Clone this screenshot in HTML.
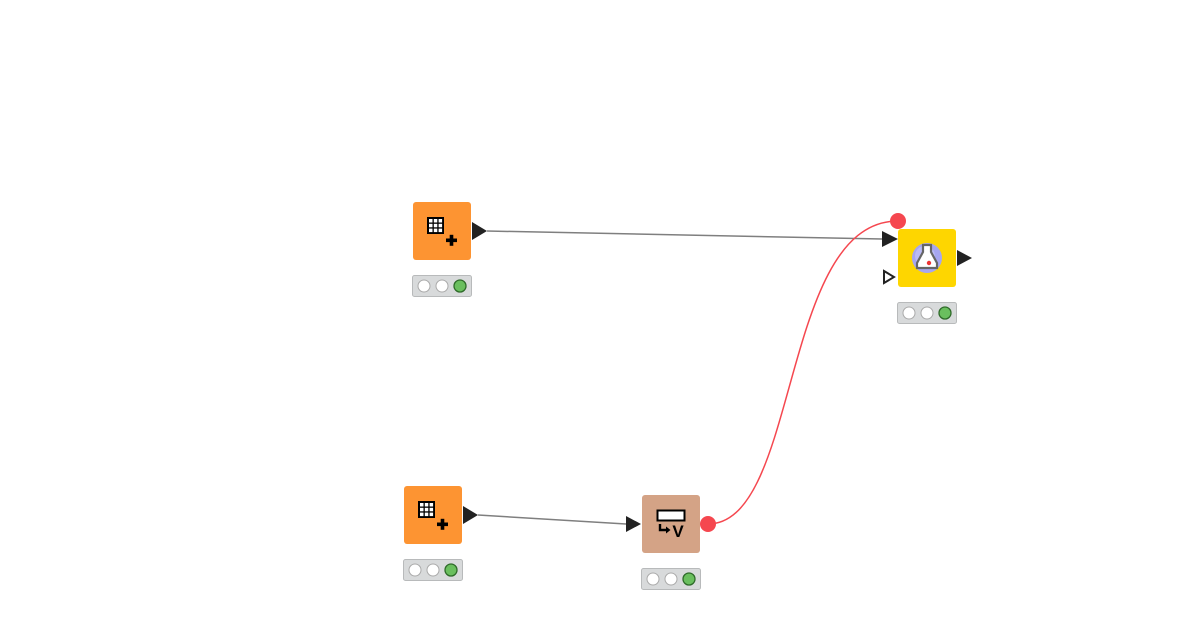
<!DOCTYPE html>
<html><head><meta charset="utf-8"><style>html,body{margin:0;padding:0;background:#fff;width:1200px;height:630px;overflow:hidden}</style></head>
<body>
<svg width="1200" height="630" viewBox="0 0 1200 630" xmlns="http://www.w3.org/2000/svg">
<defs>
<g id="grid">
  <rect x="0" y="0" width="17" height="17" fill="#000"/>
  <g fill="#fff">
    <rect x="2" y="2" width="3.5" height="3.5"/><rect x="6.8" y="2" width="3.5" height="3.5"/><rect x="11.6" y="2" width="3.5" height="3.5"/>
    <rect x="2" y="6.8" width="3.5" height="3.5"/><rect x="6.8" y="6.8" width="3.5" height="3.5"/><rect x="11.6" y="6.8" width="3.5" height="3.5"/>
    <rect x="2" y="11.6" width="3.5" height="3.5"/><rect x="6.8" y="11.6" width="3.5" height="3.5"/><rect x="11.6" y="11.6" width="3.5" height="3.5"/>
  </g>
  <rect x="19" y="21.5" width="11" height="3.6" fill="#000"/>
  <rect x="22.7" y="17.8" width="3.6" height="11" fill="#000"/>
</g>
<g id="status">
  <rect x="0.5" y="0.5" width="59" height="21" rx="2" fill="#d8dadb" stroke="#b8babb"/>
  <circle cx="12" cy="11" r="6" fill="#fff" stroke="#aaa"/>
  <circle cx="30" cy="11" r="6" fill="#fff" stroke="#aaa"/>
  <circle cx="48" cy="11" r="6" fill="#6abf5e" stroke="#2f6b2a" stroke-width="1.3"/>
</g>
</defs>

<path d="M487 231 L882 239" stroke="#7f7f7f" stroke-width="1.5" fill="none"/>
<path d="M478 515 L626 524" stroke="#7f7f7f" stroke-width="1.5" fill="none"/>
<path d="M708 524 C800 524 780 221 898 221" stroke="#f5474f" stroke-width="1.5" fill="none"/>

<rect x="413" y="202" width="58" height="58" rx="3" fill="#fd9432"/>
<use href="#grid" x="427" y="217"/>
<polygon points="472,222 487,231 472,240" fill="#222"/>
<use href="#status" x="412" y="275"/>

<rect x="404" y="486" width="58" height="58" rx="3" fill="#fd9432"/>
<use href="#grid" x="418" y="501"/>
<polygon points="463,506 478,515 463,524" fill="#222"/>
<use href="#status" x="403" y="559"/>

<rect x="642" y="495" width="58" height="58" rx="3" fill="#d4a386"/>
<rect x="657.5" y="510.5" width="27" height="10" fill="#fff" stroke="#000" stroke-width="2"/>
<path d="M660 524 v6 h7" stroke="#000" stroke-width="2.4" fill="none"/>
<polygon points="666,526.5 670.5,530 666,533.5" fill="#000"/>
<text x="678" y="537" font-family="Liberation Sans, sans-serif" font-weight="bold" font-size="17" text-anchor="middle" fill="#000">V</text>
<polygon points="626,516 641,524 626,532" fill="#222"/>
<circle cx="708" cy="524" r="8" fill="#f5474f"/>
<use href="#status" x="641" y="568"/>

<rect x="898" y="229" width="58" height="58" rx="3" fill="#fed600"/>
<circle cx="927" cy="258" r="15" fill="#a6a6f0"/>
<circle cx="925" cy="256" r="10" fill="#c8c8f8" opacity="0.6"/>
<path d="M923 245 h8 v7 l6 11 v5 h-20 v-5 l6 -11 z" fill="#fff" stroke="#666" stroke-width="2.2"/>
<circle cx="929" cy="263" r="2.2" fill="#e33"/>
<polygon points="957,250 972,258 957,266" fill="#222"/>
<polygon points="882,231 898,239 882,247" fill="#222"/>
<polygon points="884,271 894,277 884,283" fill="#fff" stroke="#222" stroke-width="2"/>
<circle cx="898" cy="221" r="8" fill="#f5474f"/>
<use href="#status" x="897" y="302"/>
</svg>
</body></html>
